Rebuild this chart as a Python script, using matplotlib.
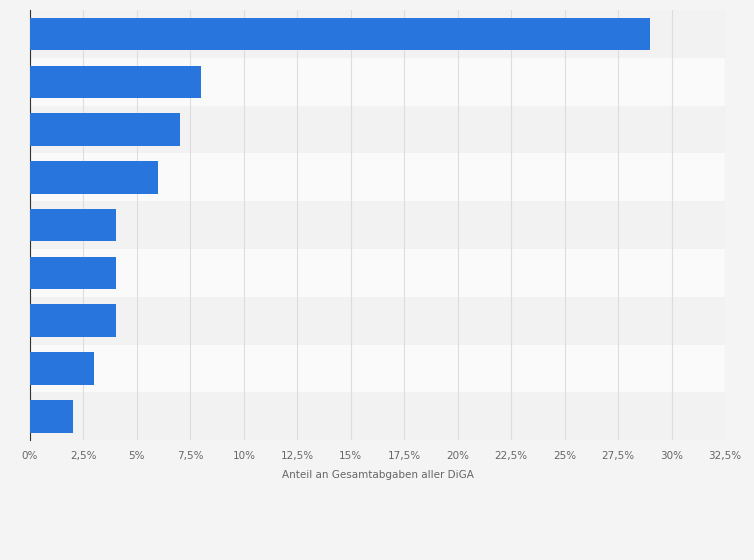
import numpy as np
import matplotlib.pyplot as plt
from matplotlib.ticker import FuncFormatter

# share of total DiGA expenses, top to bottom
values = [29, 8, 7, 6, 4, 4, 4, 3, 2]
ticks = np.arange(0, 32.51, 2.5)
xlabel = 'Anteil an Gesamtabgaben aller DiGA'

fig = plt.figure(figsize=(7.54, 5.60), dpi=100)
fig.patch.set_facecolor('#f4f4f4')
ax = fig.add_axes([0.0398, 0.214, 0.9217, 0.768])
ax.set_facecolor('#f4f4f4')

n = len(values)
y = np.arange(n)
for i in range(n):
    ax.axhspan(i - 0.5, i + 0.5, color='#fafafa' if i % 2 else '#f2f2f2', zorder=0, lw=0)

ax.barh(y, values, height=0.68, color='#2876dd', zorder=3)
ax.set_ylim(n - 0.5, -0.5)
ax.set_xlim(0, 32.5)
ax.set_xticks(ticks)
ax.xaxis.set_major_formatter(FuncFormatter(lambda v, p: ('%g' % v).replace('.', ',') + '%'))
ax.set_yticks([])
ax.grid(axis='x', color='#dddddd', lw=0.8, zorder=1)
for s in ['top', 'right', 'bottom']:
    ax.spines[s].set_visible(False)
ax.spines['left'].set_color('#333333')
ax.tick_params(axis='x', length=0, labelsize=7.5, colors='#666666', pad=8)
ax.set_xlabel(xlabel, fontsize=7.5, color='#666666', labelpad=6)

plt.savefig('out.png')
